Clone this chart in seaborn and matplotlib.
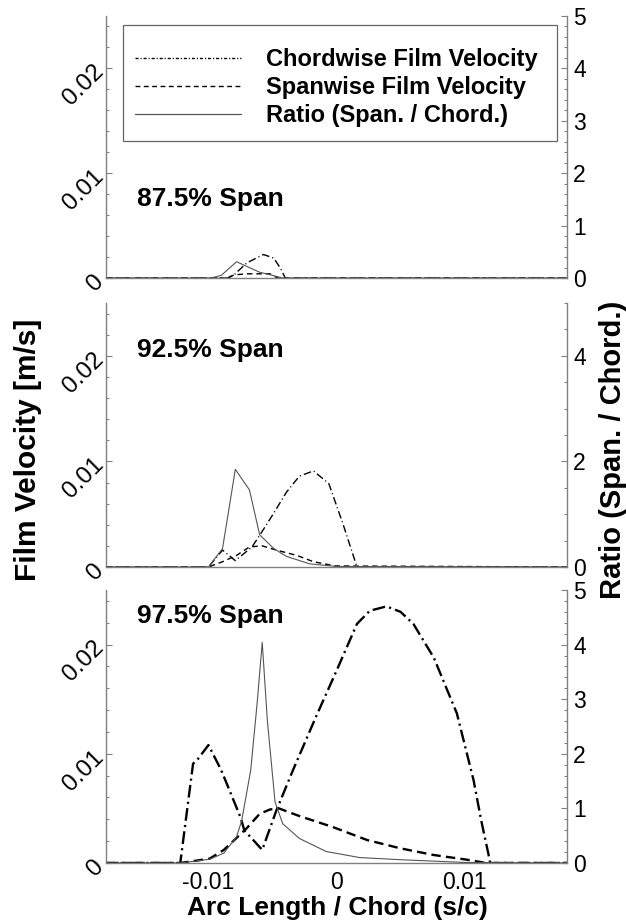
import matplotlib
matplotlib.use("Agg")
import matplotlib.pyplot as plt
import seaborn as sns
import pandas as pd
from matplotlib.ticker import MultipleLocator
from matplotlib.patches import Rectangle
from matplotlib.lines import Line2D

# ---------------- data ----------------
# 87.5% span
s_chord_875 = [-0.018, -0.0085, -0.0080, -0.0070, -0.0057, -0.0049, -0.0044, -0.0040, 0.018]
chord_875 = [0, 0, 0.0003, 0.00145, 0.00224, 0.0019, 0.00097, 0.0, 0]
s_span_875 = [-0.018, -0.0085, -0.0080, -0.0070, -0.0060, -0.0052, -0.0046, 0.018]
span_875 = [0, 0, 0.0003, 0.0004, 0.0004, 0.0004, 0.0, 0]
s_ratio_875 = [-0.018, -0.0098, -0.0090, -0.0078, -0.0070, -0.0060, -0.0050, -0.0042, 0.018]
ratio_875 = [0, 0, 0.05, 0.31, 0.22, 0.11, 0.05, 0.0, 0]

# 92.5% span
s_chord_925 = [-0.018, -0.0100, -0.0089, -0.0079, -0.0066, -0.0060, -0.0049, -0.0039,
               -0.0029, -0.0018, -0.0006, 0.0005, 0.0016, 0.018]
chord_925 = [0, 0, 0.0016, 0.0006, 0.0019, 0.0030, 0.0051, 0.0071,
             0.0086, 0.0091, 0.0079, 0.0041, 0.0, 0]
s_span_925 = [-0.018, -0.0100, -0.0089, -0.0078, -0.0068, -0.0058, -0.0047, -0.0031,
              -0.0018, -0.0001, 0.018]
span_925 = [0, 0, 0.0005, 0.0011, 0.0019, 0.0020, 0.0016, 0.0011, 0.0005, 0.0001, 0]
s_ratio_925 = [-0.018, -0.0100, -0.0089, -0.0079, -0.0068, -0.0060, -0.0049, -0.0039,
               -0.0021, 0.0, 0.018]
ratio_925 = [0, 0, 0.35, 1.85, 1.46, 0.61, 0.35, 0.20, 0.06, 0.01, 0]

# 97.5% span
s_chord_975 = [-0.018, -0.0122, -0.0112, -0.0109, -0.0100, -0.0090, -0.0075, -0.0072,
               -0.0058, -0.0047, -0.0034, -0.0016, 0.0, 0.0016, 0.0026, 0.0039, 0.0050,
               0.0060, 0.0076, 0.0094, 0.0107, 0.0113, 0.01185, 0.0120, 0.018]
chord_975 = [0, 0, 0.0091, 0.0094, 0.0108, 0.0085, 0.0042, 0.0030,
             0.0012, 0.0048, 0.0085, 0.0134, 0.0176, 0.0219, 0.0231, 0.0235, 0.0230,
             0.0219, 0.0188, 0.0137, 0.0076, 0.0039, 0.0009, 0.0, 0]
s_span_975 = [-0.018, -0.0122, -0.0099, -0.0088, -0.0078, -0.0070, -0.0060, -0.0052,
              -0.0045, -0.0029, -0.0003, 0.0024, 0.0050, 0.0076, 0.0102, 0.0117, 0.018]
span_975 = [0, 0, 0.0004, 0.0012, 0.0023, 0.0032, 0.0045, 0.0049,
            0.0050, 0.0043, 0.0033, 0.0021, 0.00134, 0.00073, 0.0003, 0.0, 0]
s_ratio_975 = [-0.018, -0.0122, -0.0099, -0.0088, -0.0078, -0.0074, -0.0067, -0.0062,
               -0.0058, -0.0054, -0.0048, -0.0042, -0.0029, -0.0008, 0.0018, 0.0050,
               0.0100, 0.018]
ratio_975 = [0, 0, 0.07, 0.18, 0.48, 0.78, 1.70, 2.92,
             4.04, 2.61, 1.12, 0.72, 0.45, 0.21, 0.10, 0.06, 0.01, 0]

panel_labels = ["87.5% Span", "92.5% Span", "97.5% Span"]
legend_labels = ["Chordwise Film Velocity", "Spanwise Film Velocity", "Ratio (Span. / Chord.)"]
x_ticks = [-0.01, 0, 0.01]
x_ticklabels = ["-0.01", "0", "0.01"]
y_ticks = [0, 0.01, 0.02]
y_ticklabels = ["0", "0.01", "0.02"]

# ---------------- style ----------------
sns.set_style("white")
plt.rcParams["font.family"] = ["Liberation Sans", "DejaVu Sans"]
plt.rcParams["text.color"] = "black"
plt.rcParams["axes.labelcolor"] = "black"
plt.rcParams["xtick.color"] = "black"
plt.rcParams["ytick.color"] = "black"

GRAY = "#808080"
RATIO_C = "#555555"
TICK_FS = 16.5
YTICK_FS = 17.5

fig = plt.figure(figsize=(6.26, 9.23), dpi=100)

W = 626.0
H = 923.0
left_px, right_px = 106, 567
panel_px = [(16, 278), (303, 567), (590, 863)]


def draw_panel(idx, s_c, v_c, s_s, v_s, s_r, v_r, lw, label_y, r_major, r_minor):
    top, bot = panel_px[idx]
    rect = [left_px / W, 1 - bot / H, (right_px - left_px) / W, (bot - top) / H]
    ax = fig.add_axes(rect)
    axr = ax.twinx()

    if lw > 1.2:
        dd = (0, (5.4, 1.8, 0.9, 1.8))
        dsh = (0, (4.0, 2.2))
    else:
        dd = (0, (5.5, 2.2, 0.8, 2.2))
        dsh = (0, (4.0, 2.8))

    sns.lineplot(data=pd.DataFrame({"s": s_c, "v": v_c}), x="s", y="v", ax=ax,
                 color="black", lw=lw, linestyle=dd, errorbar=None, sort=False)
    sns.lineplot(data=pd.DataFrame({"s": s_s, "v": v_s}), x="s", y="v", ax=ax,
                 color="black", lw=lw, linestyle=dsh, errorbar=None, sort=False)
    sns.lineplot(data=pd.DataFrame({"s": s_r, "r": v_r}), x="s", y="r", ax=axr,
                 color=RATIO_C, lw=0.8, errorbar=None, sort=False)

    ax.set_xlim(-0.018, 0.018)
    ax.set_ylim(0, 0.025)
    axr.set_ylim(0, 5)
    for a in (ax, axr):
        a.set_xlabel("")
        a.set_ylabel("")
        a.grid(False)

    ax.spines["top"].set_visible(False)
    ax.spines["right"].set_visible(False)
    ax.spines["left"].set_color(GRAY)
    ax.spines["bottom"].set_color(GRAY)
    for sp in ("top", "left", "bottom"):
        axr.spines[sp].set_visible(False)
    axr.spines["right"].set_color(GRAY)
    for a in (ax, axr):
        for sp in a.spines.values():
            sp.set_linewidth(1.0)

    # x ticks
    ax.set_xticks(x_ticks)
    ax.xaxis.set_minor_locator(MultipleLocator(0.002))
    if idx == 2:
        ax.set_xticklabels(x_ticklabels, fontsize=TICK_FS)
    else:
        ax.set_xticklabels([])
    # left y ticks
    ax.set_yticks(y_ticks)
    ax.set_yticklabels(y_ticklabels, fontsize=YTICK_FS, rotation=45,
                       rotation_mode="anchor", ha="right", va="center")
    ax.yaxis.set_minor_locator(MultipleLocator(0.002))
    ax.tick_params(axis="both", which="major", direction="in", length=4.5, width=0.8,
                   color=GRAY, labelcolor="black", pad=4)
    ax.tick_params(axis="both", which="minor", direction="in", length=2.5, width=0.8,
                   color=GRAY)
    ax.tick_params(axis="x", which="major", pad=6)
    ax.tick_params(axis="x", top=False, which="both")
    ax.tick_params(axis="y", right=False, which="both")

    # right y ticks
    axr.set_yticks(r_major)
    axr.set_yticklabels([str(v) for v in r_major], fontsize=TICK_FS)
    axr.yaxis.set_minor_locator(MultipleLocator(r_minor))
    axr.tick_params(axis="y", which="major", direction="in", length=4.5, width=0.8,
                    color=GRAY, labelcolor="black", pad=4.5)
    axr.tick_params(axis="y", which="minor", direction="in", length=2.5, width=0.8,
                    color=GRAY)
    axr.tick_params(axis="x", which="both", bottom=False, top=False,
                    labelbottom=False)

    ax.text(0.067, label_y, panel_labels[idx], transform=ax.transAxes,
            fontsize=19, fontweight="bold", va="center", ha="left", color="black")
    return ax, axr


ax1, ax1r = draw_panel(0, s_chord_875, chord_875, s_span_875, span_875,
                       s_ratio_875, ratio_875, 1.0, 0.30, [0, 1, 2, 3, 4, 5], 0.2)
ax2, ax2r = draw_panel(1, s_chord_925, chord_925, s_span_925, span_925,
                       s_ratio_925, ratio_925, 1.0, 0.822, [0, 2, 4], 0.5)
ax3, ax3r = draw_panel(2, s_chord_975, chord_975, s_span_975, span_975,
                       s_ratio_975, ratio_975, 1.7, 0.905, [0, 1, 2, 3, 4, 5], 0.2)

# legend (panel 1)
handles = [
    Line2D([], [], color="black", lw=1.0, linestyle=(0, (2.2, 1.4, 0.8, 1.4))),
    Line2D([], [], color="black", lw=1.0, linestyle=(0, (3.5, 2.5))),
    Line2D([], [], color=RATIO_C, lw=0.9),
]
ax1r.add_patch(Rectangle((0.036, 0.523), 0.943, 0.443, transform=ax1r.transAxes,
                         fill=False, ec="#666666", lw=0.9, zorder=5))
leg = ax1r.legend(handles, legend_labels, loc="upper left", bbox_to_anchor=(0.063, 0.876),
                  frameon=False, borderaxespad=0, borderpad=0, handlelength=4.5,
                  handletextpad=1.05, labelspacing=0.2,
                  prop={"family": "Liberation Sans", "weight": "bold", "size": 17})
for t in leg.get_texts():
    t.set_color("black")

# axis labels
fig.text(0.045, 1 - 450 / H, "Film Velocity [m/s]", rotation=90, fontsize=21.5,
         fontweight="bold", ha="center", va="center", color="black")
fig.text(0.980, 1 - 450 / H, "Ratio (Span. / Chord.)", rotation=90, fontsize=21,
         fontweight="bold", ha="center", va="center", color="black")
fig.text(337 / W, 1 - 915 / H, "Arc Length / Chord (s/c)", fontsize=19,
         fontweight="bold", ha="center", va="baseline", color="black")

fig.savefig("out.png", dpi=100)
